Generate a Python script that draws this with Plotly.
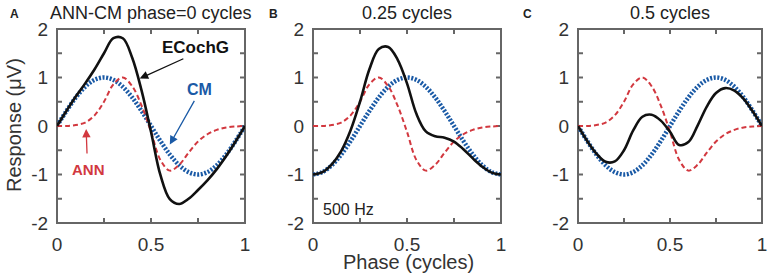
import plotly.graph_objects as go

# ---------------- data ----------------
phase = [0.0, 0.05, 0.10, 0.15, 0.20, 0.25, 0.30, 0.35, 0.40, 0.45, 0.50,
         0.55, 0.60, 0.65, 0.70, 0.75, 0.80, 0.85, 0.90, 0.95, 1.0]

ann = [0.0, 0.0, 0.02, 0.07, 0.22, 0.50, 0.86, 1.0, 0.82, 0.42, -0.12,
       -0.70, -0.92, -0.80, -0.55, -0.32, -0.17, -0.08, -0.03, -0.01, 0.0]

cm_a = [0.0, 0.309, 0.588, 0.809, 0.951, 1.0, 0.951, 0.809, 0.588, 0.309, 0.0,
        -0.309, -0.588, -0.809, -0.951, -1.0, -0.951, -0.809, -0.588, -0.309, 0.0]
cm_b = [-1.0, -0.951, -0.809, -0.588, -0.309, 0.0, 0.309, 0.588, 0.809, 0.951, 1.0,
        0.951, 0.809, 0.588, 0.309, 0.0, -0.309, -0.588, -0.809, -0.951, -1.0]
cm_c = [0.0, -0.309, -0.588, -0.809, -0.951, -1.0, -0.951, -0.809, -0.588, -0.309, 0.0,
        0.309, 0.588, 0.809, 0.951, 1.0, 0.951, 0.809, 0.588, 0.309, 0.0]

ecochg_a = [0.0, 0.309, 0.608, 0.879, 1.171, 1.50, 1.811, 1.809, 1.408, 0.729, -0.12,
            -1.009, -1.508, -1.609, -1.501, -1.32, -1.121, -0.889, -0.618, -0.319, 0.0]
ecochg_b = [-1.0, -0.951, -0.789, -0.518, -0.089, 0.50, 1.169, 1.588, 1.629, 1.371, 0.88,
            0.251, -0.112, -0.212, -0.241, -0.32, -0.479, -0.668, -0.839, -0.961, -1.0]
ecochg_c = [0.0, -0.309, -0.568, -0.739, -0.731, -0.50, -0.091, 0.191, 0.232, 0.111, -0.12,
            -0.391, -0.332, 0.009, 0.401, 0.68, 0.781, 0.729, 0.558, 0.299, 0.0]

panel_titles = ["ANN-CM phase=0 cycles", "0.25 cycles", "0.5 cycles"]
panel_letters = ["A", "B", "C"]
x_range = [0, 1]
y_range = [-2, 2]
x_tickvals = [0, 0.25, 0.5, 0.75, 1]
x_ticktext = ["0", "", "0.5", "", "1"]
y_tickvals = [-2, -1.5, -1, -0.5, 0, 0.5, 1, 1.5, 2]
y_ticktext = ["-2", "", "-1", "", "0", "", "1", "", "2"]

# ---------------- styling ----------------
BLACK = "#111111"
BLUE = "#1a5aa6"
RED = "#d2383f"
W, H = 773, 275
FONT = "Liberation Sans, Arial, sans-serif"
TXT = "#333333"
AXC = "#666666"

px_left = [57, 313, 578]
px_right = [245, 501, 762]
px_top, px_bot = 29, 223

fig = go.Figure()
cms = [cm_a, cm_b, cm_c]
ecs = [ecochg_a, ecochg_b, ecochg_c]

for i in range(3):
    xa = "x" if i == 0 else f"x{i+1}"
    ya = "y" if i == 0 else f"y{i+1}"
    x0, x1 = x_range
    y0, y1 = y_range
    tlx = 5 * (x1 - x0) / (px_right[i] - px_left[i])
    tly = 5 * (y1 - y0) / (px_bot - px_top)
    fx = [x0, x1, x1, x0, x0, None]
    fy = [y0, y0, y1, y1, y0, None]
    for tv in x_tickvals:
        fx += [tv, tv, None, tv, tv, None]
        fy += [y0, y0 + tly, None, y1, y1 - tly, None]
    for tv in y_tickvals:
        fx += [x0, x0 + tlx, None, x1, x1 - tlx, None]
        fy += [tv, tv, None, tv, tv, None]
    fig.add_trace(go.Scatter(x=fx, y=fy, mode="lines", xaxis=xa, yaxis=ya,
                             line=dict(color=AXC, width=2), cliponaxis=False,
                             showlegend=False, hoverinfo="skip"))
    fig.add_trace(go.Scatter(x=phase, y=cms[i], mode="lines", xaxis=xa, yaxis=ya,
                             line=dict(color=BLUE, width=4.5, dash="2px,1.6px", shape="spline"),
                             showlegend=False, hoverinfo="skip"))
    fig.add_trace(go.Scatter(x=phase, y=ann, mode="lines", xaxis=xa, yaxis=ya,
                             line=dict(color=RED, width=2, dash="5px,3px", shape="spline"),
                             showlegend=False, hoverinfo="skip"))
    fig.add_trace(go.Scatter(x=phase, y=ecs[i], mode="lines", xaxis=xa, yaxis=ya,
                             line=dict(color=BLACK, width=2.6, shape="spline"),
                             showlegend=False, hoverinfo="skip"))

axis_common = dict(showgrid=False, zeroline=False, showline=True, linecolor=AXC, linewidth=1,
                   mirror=True, ticks="", automargin=False, ticklabelstandoff=4,
                   tickfont=dict(family=FONT, size=19, color=TXT))

layout = dict(template="none", width=W, height=H, margin=dict(l=0, r=0, t=0, b=0),
              paper_bgcolor="white", plot_bgcolor="white",
              font=dict(family=FONT))
for i in range(3):
    xk = "xaxis" if i == 0 else f"xaxis{i+1}"
    yk = "yaxis" if i == 0 else f"yaxis{i+1}"
    ya = "y" if i == 0 else f"y{i+1}"
    xa = "x" if i == 0 else f"x{i+1}"
    layout[xk] = dict(axis_common, domain=[px_left[i] / W, px_right[i] / W], range=x_range,
                      tickvals=x_tickvals, ticktext=x_ticktext, anchor=ya)
    layout[yk] = dict(axis_common, domain=[1 - px_bot / H, 1 - px_top / H], range=y_range,
                      tickvals=y_tickvals, ticktext=y_ticktext, anchor=xa)
fig.update_layout(**layout)

ann_list = []
for i in range(3):
    cx = (px_left[i] + px_right[i]) / 2 / W
    ann_list.append(dict(x=cx, y=1 - 13 / H, xref="paper", yref="paper", text=panel_titles[i],
                         showarrow=False, font=dict(family=FONT, size=18, color="#222222"),
                         xanchor="center", yanchor="middle"))
letter_x = [15, 273, 527]
for i in range(3):
    ann_list.append(dict(x=letter_x[i] / W, y=1 - 14 / H, xref="paper", yref="paper",
                         text=f"<b>{panel_letters[i]}</b>", showarrow=False,
                         font=dict(family=FONT, size=12, color="#222222"),
                         xanchor="center", yanchor="middle"))
ann_list.append(dict(x=408 / W, y=1 - 262 / H, xref="paper", yref="paper", text="Phase (cycles)",
                     showarrow=False, font=dict(family=FONT, size=20, color=TXT),
                     xanchor="center", yanchor="middle"))
ann_list.append(dict(x=14 / W, y=1 - 125 / H, xref="paper", yref="paper", text="Response (μV)",
                     showarrow=False, textangle=-90, font=dict(family=FONT, size=20, color=TXT),
                     xanchor="center", yanchor="middle"))
ann_list.append(dict(x=0.04, y=-1.72, xref="x2", yref="y2", text="500 Hz", showarrow=False,
                     font=dict(family=FONT, size=16, color="#222222"), xanchor="left", yanchor="middle"))
ann_list.append(dict(x=0.735, y=1.62, xref="x", yref="y", text="<b>ECochG</b>", showarrow=False,
                     font=dict(family=FONT, size=17, color=BLACK), xanchor="center", yanchor="middle"))
ann_list.append(dict(x=0.44, y=0.98, ax=0.68, ay=1.40, xref="x", yref="y", axref="x", ayref="y",
                     text="", showarrow=True, arrowhead=2, arrowsize=1.3, arrowwidth=1.3,
                     arrowcolor=BLACK))
ann_list.append(dict(x=0.76, y=0.76, xref="x", yref="y", text="<b>CM</b>", showarrow=False,
                     font=dict(family=FONT, size=16, color=BLUE), xanchor="center", yanchor="middle"))
ann_list.append(dict(x=0.60, y=-0.38, ax=0.735, ay=0.55, xref="x", yref="y", axref="x", ayref="y",
                     text="", showarrow=True, arrowhead=2, arrowsize=1.3, arrowwidth=1.3,
                     arrowcolor=BLUE))
ann_list.append(dict(x=0.165, y=-0.9, xref="x", yref="y", text="<b>ANN</b>", showarrow=False,
                     font=dict(family=FONT, size=15, color=RED), xanchor="center", yanchor="middle"))
ann_list.append(dict(x=0.155, y=-0.06, ax=0.16, ay=-0.6, xref="x", yref="y", axref="x", ayref="y",
                     text="", showarrow=True, arrowhead=2, arrowsize=1.3, arrowwidth=1.3,
                     arrowcolor=RED))
fig.update_layout(annotations=ann_list)

fig.write_html("out.html", config={"displayModeBar": False},
               post_script="document.body.style.margin='0';document.body.style.padding='0';"
                           "document.body.style.overflow='hidden';")
